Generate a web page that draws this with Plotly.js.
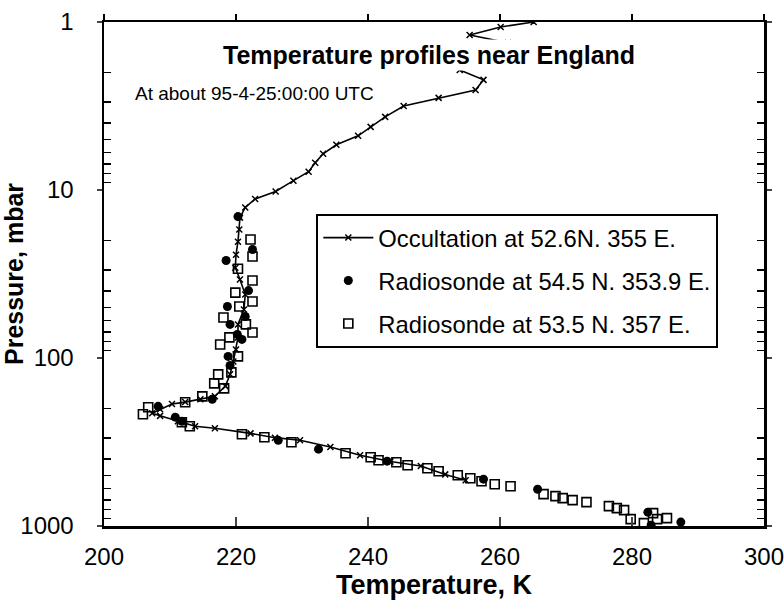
<!DOCTYPE html>
<html><head><meta charset="utf-8">
<script src="https://cdn.plot.ly/plotly-3.0.1.min.js"></script>
<style>html,body{margin:0;padding:0;background:#fff}</style>
</head><body><div id="chart" style="width:784px;height:602px"></div>
<script>
// Occultation at 52.6N, 355E
const occT = [265.1, 260.1, 255.4, 261.2, 253.9, 257.5, 256.3, 250.7, 245.4, 242.6, 240.4, 238.5, 235.2, 233.2, 232.0, 231.0, 228.7, 226.0, 222.9, 221.4, 220.6, 220.5, 220.3, 220.0, 219.9, 220.6, 221.4, 221.2, 220.3, 220.3, 220.0, 219.6, 219.1, 218.4, 216.8, 214.6, 212.3, 210.3, 208.5, 207.3, 208.5, 211.2, 213.8, 216.8, 222.2, 225.9, 229.7, 234.3, 238.8, 243.4, 248.0, 251.7, 254.8];
const occP = [1.0, 1.07, 1.195, 1.33, 1.93, 2.21, 2.54, 2.83, 3.16, 3.67, 4.21, 4.76, 5.38, 6.09, 6.88, 7.78, 8.80, 10.2, 11.3, 12.7, 14.6, 17.2, 20.3, 24.3, 29.0, 34.1, 41.9, 51.5, 63.2, 75.5, 88.9, 104.8, 125, 147, 169, 176, 183, 188, 202, 213, 221, 238, 255, 262, 281, 298, 309, 339, 379, 413, 439, 493, 534];

// Radiosonde at 54.5N, 353.9E
const rs1T = [220.3, 218.5, 222.5, 221.9, 218.7, 221.4, 219.1, 220.2, 220.9, 218.8, 219.1, 216.4, 208.2, 210.8, 211.8, 226.4, 232.5, 242.9, 257.5, 265.7, 282.4, 282.9, 287.4];
const rs1P = [14.4, 26.3, 22.6, 39.7, 49.4, 56.6, 63.1, 72.4, 77.5, 97.8, 110.7, 176, 194, 225, 238, 309, 349, 411, 526, 604, 827, 990, 948];

// Radiosonde at 53.5N, 357E
const rs2T = [222.2, 222.5, 220.3, 222.5, 219.9, 222.5, 220.5, 218.1, 221.5, 222.5, 219.0, 217.6, 220.3, 219.3, 217.3, 216.7, 218.2, 214.9, 212.3, 206.7, 205.9, 211.8, 213.0, 220.9, 224.3, 228.4, 236.6, 240.4, 241.6, 244.3, 246.0, 249.0, 250.7, 253.6, 255.5, 257.2, 259.2, 261.6, 266.6, 268.4, 269.5, 271.0, 273.1, 276.5, 277.7, 278.8, 279.8, 281.8, 283.2, 283.8, 285.3];
const rs2P = [19.7, 24.9, 29.4, 34.6, 40.8, 46.1, 49.4, 57.4, 63.1, 70.5, 75.4, 83.1, 97.8, 121.8, 125.2, 141.6, 151.6, 169.1, 183.5, 196.6, 216.3, 241.3, 255.0, 284.4, 296.3, 317.3, 368.9, 389.6, 405.9, 417.2, 434.7, 452.9, 471.9, 498.5, 519.3, 541.1, 563.8, 579.5, 646.3, 664.2, 682.8, 701.7, 721.2, 761.8, 782.9, 804.6, 909.9, 961, 838.4, 909.9, 897.7];

const seriesNames = ['Occultation at 52.6N. 355 E.', 'Radiosonde at 54.5 N. 353.9 E.', 'Radiosonde at 53.5 N. 357 E.'];
const xTicks = [200, 220, 240, 260, 280, 300];
const yTicks = [1, 10, 100, 1000];
const yTickText = ['1', '10', '100', '1000'];
const titleText = 'Temperature profiles near England';
const subtitleText = 'At about 95-4-25:00:00 UTC';

const FONT = 'Liberation Sans, Arial, Helvetica, sans-serif';

const traces = [
  {x: occT, y: occP, name: seriesNames[0], legendgroup: 'a', mode: 'lines+markers', type: 'scatter',
   line: {color: '#000', width: 1.6}, marker: {symbol: 'x-thin', size: 6, line: {color: '#000', width: 1.5}, color: '#000'}},
  {x: rs1T, y: rs1P, name: seriesNames[1], legendgroup: 'b', mode: 'markers', type: 'scatter',
   marker: {symbol: 'circle', size: 9, color: '#000'}},
  {x: rs2T, y: rs2P, name: seriesNames[2], legendgroup: 'c', mode: 'markers', type: 'scatter',
   marker: {symbol: 'square-open', size: 9, color: '#000', line: {width: 1.6}}},
  // empty helper trace so the top tick axis is drawn
  {x: [], y: [], xaxis: 'x2', yaxis: 'y', type: 'scatter', mode: 'markers', showlegend: false, hoverinfo: 'skip'}
];

const minorVals = [];
[1, 10, 100].forEach(d => { for (let k = 2; k <= 9; k++) minorVals.push(d * k); });

const layout = {
  width: 784, height: 602,
  margin: {l: 104, r: 20, t: 22, b: 76},
  paper_bgcolor: '#fff', plot_bgcolor: '#fff',
  font: {family: FONT, color: '#000'},
  showlegend: true,
  xaxis: {
    range: [200, 300], tickvals: xTicks, ticks: 'inside', ticklen: 9, tickwidth: 2,
    showline: true, linewidth: 2.5, linecolor: '#000', mirror: true,
    showgrid: false, zeroline: false, ticklabeloverflow: 'allow',
    tickfont: {size: 24, family: FONT}, ticklabelstandoff: 8,
    title: {text: 'Temperature, K', font: {size: 27, family: FONT, weight: 'bold'}, standoff: 6}
  },
  xaxis2: {
    overlaying: 'x', matches: 'x', side: 'top', anchor: 'y',
    tickvals: xTicks, ticks: 'outside', ticklen: 7, tickwidth: 2.5, tickcolor: '#000',
    showticklabels: false, showline: false, showgrid: false, zeroline: false
  },
  yaxis: {
    type: 'log', range: [3, 0], tickvals: yTicks, ticktext: yTickText,
    ticks: 'outside', ticklen: 5, tickwidth: 2,
    minor: {tickvals: minorVals, ticks: 'inside', ticklen: 7, tickwidth: 1.5, tickcolor: '#000', showgrid: false},
    showline: true, linewidth: 2.5, linecolor: '#000', mirror: 'ticks',
    showgrid: false, zeroline: false,
    tickfont: {size: 24, family: FONT}, ticklabelstandoff: 18,
    title: {text: 'Pressure, mbar', font: {size: 25, family: FONT, weight: 'bold'}, standoff: 12}
  },
  legend: {
    x: 0.3217, y: 0.6198, xanchor: 'left', yanchor: 'top',
    bgcolor: '#fff', bordercolor: '#000', borderwidth: 2,
    font: {size: 23.8, family: FONT}, traceorder: 'grouped', tracegroupgap: 9,
    itemwidth: 50
  },
  annotations: [
    {text: titleText, xref: 'paper', yref: 'paper', x: 0.4924, y: 0.9347, xanchor: 'center', yanchor: 'middle',
     showarrow: false, font: {size: 25, family: FONT, weight: 'bold'}, bgcolor: '#fff'},
    {text: subtitleText, xref: 'paper', yref: 'paper', x: 0.044, y: 0.859, xanchor: 'left', yanchor: 'middle',
     showarrow: false, font: {size: 19, family: FONT}}
  ]
};

Plotly.newPlot('chart', traces, layout, {displayModeBar: false, staticPlot: true});
</script>
</body></html>
